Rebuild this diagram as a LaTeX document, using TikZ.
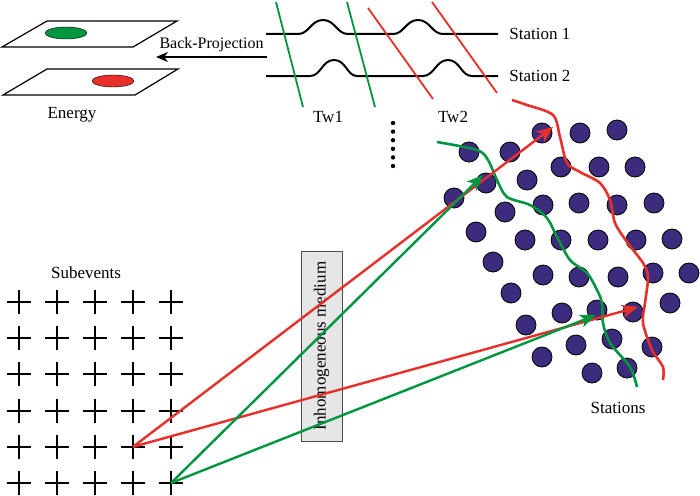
\documentclass[tikz,border=0pt]{standalone}
\usepackage{fontspec}
\setmainfont{Liberation Serif}
\usetikzlibrary{arrows.meta, positioning}
\usetikzlibrary{matrix}
\usepackage{xcolor}

\definecolor{twgreen}{RGB}{0,150,64}
\definecolor{twred}{RGB}{232,48,42}
\definecolor{stnblue}{RGB}{61,43,125}
\definecolor{medgray}{RGB}{230,230,230}

\begin{document}
\begin{tikzpicture}[x=1pt,y=-1pt,
    every node/.style={font=\fontsize{17}{20}\selectfont},
    panel/.style={draw=black,line width=1.2pt},
    trace/.style={draw=black,line width=2pt},
    twin/.style={line width=1.8pt},
    front/.style={line width=2.6pt},
    ray/.style={line width=2.4pt,-{Stealth[length=16pt,width=13pt,inset=4pt]}},
    stn/.style={circle,draw=black,fill=stnblue,minimum size=20pt,inner sep=0pt,line width=0.8pt},
    subev/.style={minimum size=24pt,inner sep=0pt,
        path picture={\draw[line width=2pt]
            (path picture bounding box.north) -- (path picture bounding box.south)
            (path picture bounding box.west) -- (path picture bounding box.east);}}]
    \useasboundingbox (0,0) rectangle (700,495);

    % energy images
    \draw[panel] (2,47) -- (47,21) -- (177,21) -- (133,47) -- cycle;
    \draw[fill=twgreen] (66,33) ellipse (21pt and 6pt);
    \draw[panel] (3,95) -- (47,69) -- (178,69) -- (135,95) -- cycle;
    \draw[fill=twred] (113,81) ellipse (21pt and 6pt);
    \node (energy) at (72,115) {Energy};

    % back-projection
    \coordinate (bpstart) at (267,57);
    \coordinate (bpend) at (156,57);
    \draw[line width=2.4pt,-{Stealth[length=12pt,width=10pt]}] (bpstart) --
        node[above=1pt,font=\fontsize{16}{19}\selectfont] (bplabel) {Back-Projection} (bpend);

    % waveforms
    \draw[trace] (266,34) -- (298,34) .. controls (309,34) and (311,20) .. (323,20)
        .. controls (335,20) and (337,34) .. (348,34) -- (393,34)
        .. controls (404,34) and (406,20) .. (418,20)
        .. controls (430,20) and (432,34) .. (443,34) -- (498,34)
        node[right=7pt] (sta1) {Station 1};
    \draw[trace] (266,76) -- (310,76) .. controls (321,76) and (322,60) .. (334,60)
        .. controls (346,60) and (347,76) .. (357,76) -- (423,76)
        .. controls (434,76) and (436,60) .. (448,60)
        .. controls (460,60) and (461,76) .. (472,76) -- (498,76)
        node[right=7pt] (sta2) {Station 2};

    % time windows
    \draw[twin,twgreen] (276,2) -- (303,107);
    \draw[twin,twgreen] (347,2) -- (375,107);
    \draw[twin,twred] (368,8) -- (433,99);
    \draw[twin,twred] (432,2) -- (497,93);
    \node (tw1) at (328,117) {Tw1};
    \node (tw2) at (453,117) {Tw2};
    \foreach \k in {0,...,5}
        \fill (393,123+8.6*\k) circle (2.2pt);

    % medium
    \node[draw=black!70,fill=medgray,line width=1pt,minimum width=190pt,minimum height=41pt,
        inner sep=0pt,rotate=90] (medium) at (321.5,346) {Inhomogeneous medium};

    % stations
    \foreach \x/\y [count=\i] in {542/133,580/133,617/130,469/152,510/152,561/167,599/167,
        635/167,486/183,527/180,454/198,505/212,543/205,579/203,617/205,654/203,
        476/232,525/240,561/240,598/240,636/240,672/239,493/262,543/275,579/277,
        618/277,653/273,689/273,511/293,562/313,597/310,633/312,670/303,526/325,
        576/345,612/339,652/347,542/357,592/373,627/368}
        \node[stn] (st\i) at (\x,\y) {};
    \node (stations) at (618,408) {Stations};

    % wavefronts
    \draw[front,twgreen] plot[smooth,tension=0.5] coordinates {(437,142) (477,150) (488,160)
        (497,180) (507,197) (530,205) (547,218) (557,237) (570,260) (587,273)
        (597,290) (602,303) (603,323) (610,343) (630,367) (637,387)};
    \draw[front,twred] plot[smooth,tension=0.5] coordinates {(512,100) (527,105) (553,115)
        (560,137) (567,163) (580,172) (600,183) (610,200) (615,223) (627,242)
        (643,263) (648,277) (645,303) (643,323) (652,350) (663,367) (663,380)};

    % subevents
    \node (subtitle) at (86,273) {Subevents};
    \matrix (s) [matrix of nodes, nodes in empty cells,
        nodes={subev}, column sep=14pt, row sep=12.2pt] at (95,392.5)
    {
        & & & & \\
        & & & & \\
        & & & & \\
        & & & & \\
        & & & & \\
        & & & & \\
    };

    % rays
    \coordinate (redtip1) at (553,127);
    \coordinate (redtip2) at (638,307);
    \coordinate (greentip1) at (483,175);
    \coordinate (greentip2) at (596,315);
    \draw[ray,twred] (s-5-4.center) -- (redtip1);
    \draw[ray,twred] (s-5-4.center) -- (redtip2);
    \draw[ray,twgreen] (s-6-5.center) -- (greentip1);
    \draw[ray,twgreen] (s-6-5.center) -- (greentip2);

\end{tikzpicture}
\end{document}
